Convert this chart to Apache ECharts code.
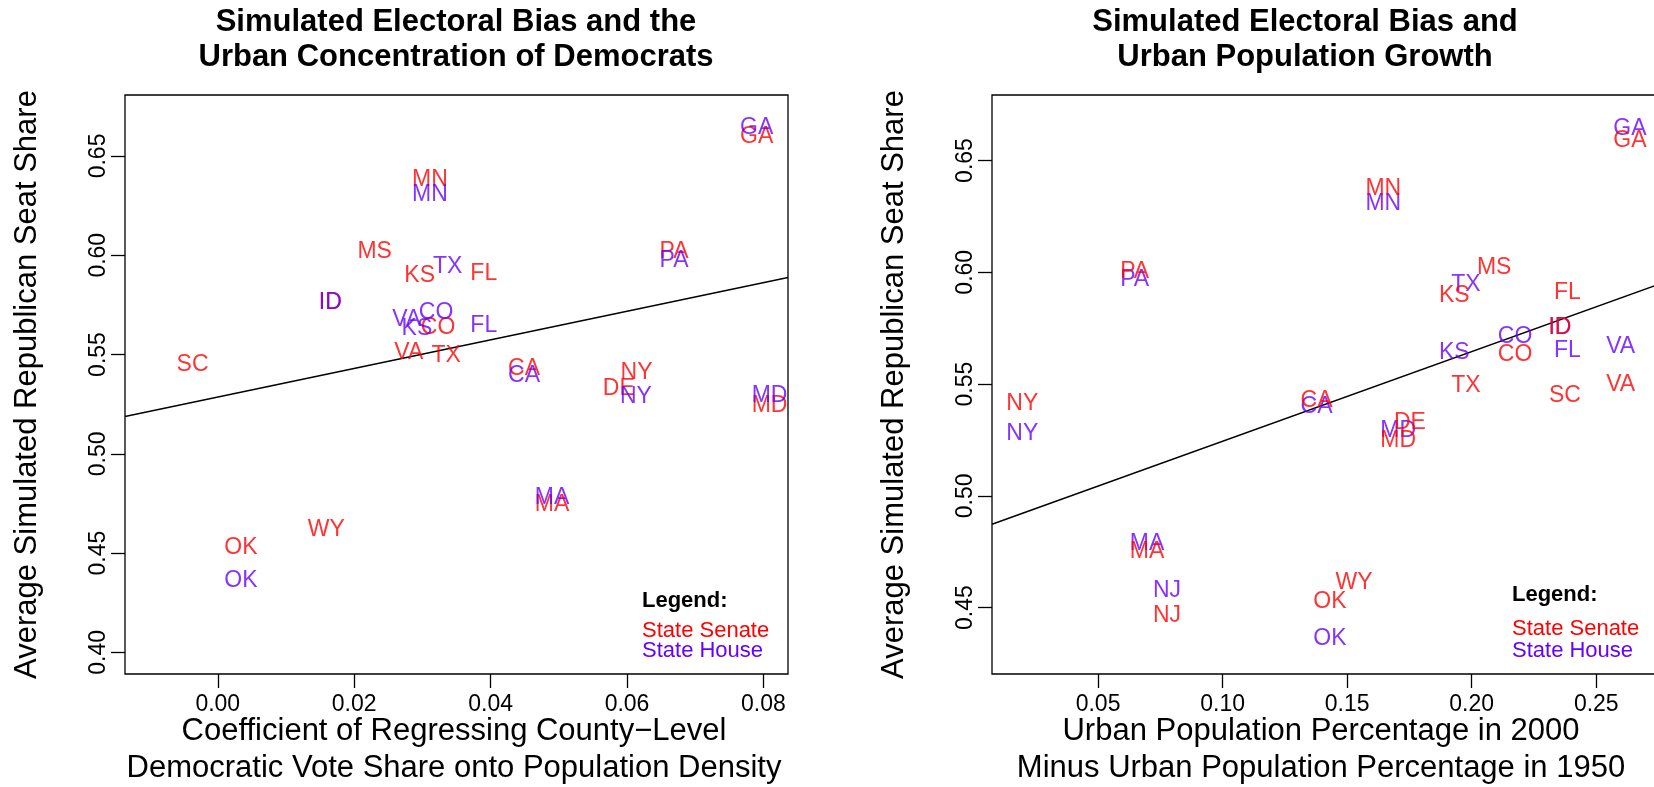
<!DOCTYPE html>
<html>
<head>
<meta charset="utf-8">
<script src="https://cdn.jsdelivr.net/npm/echarts@6/dist/echarts.min.js"></script>
<style>
html,body{margin:0;padding:0;background:#fff;}
#chart{width:1654px;height:787px;}
</style>
</head>
<body>
<div id="chart"></div>
<script>
// ---- Data: left panel (x = coefficient of regressing county-level Dem vote share onto density)
const leftSenateStates = ['MN','MS','KS','FL','ID','CO','VA','TX','SC','CA','NY','DE','MD','PA','GA','MA','OK','WY'];
const leftSenateX = [0.0311,0.0230,0.0296,0.0390,0.0165,0.0323,0.0280,0.0335,-0.0037,0.0449,0.0614,0.0588,0.0809,0.0669,0.0790,0.0490,0.0034,0.0159];
const leftSenateY = [0.6382,0.6019,0.5898,0.5907,0.5759,0.5635,0.5507,0.5495,0.5449,0.5428,0.5411,0.5328,0.5244,0.6016,0.6595,0.4745,0.4525,0.4618];

const leftHouseStates = ['MN','TX','ID','VA','CO','KS','FL','CA','NY','MD','PA','GA','MA','OK'];
const leftHouseX = [0.0311,0.0337,0.0165,0.0277,0.0320,0.0292,0.0390,0.0449,0.0613,0.0809,0.0669,0.0790,0.0490,0.0034];
const leftHouseY = [0.6306,0.5944,0.5759,0.5677,0.5713,0.5630,0.5647,0.5395,0.5286,0.5294,0.5974,0.6645,0.4779,0.4363];

// ---- Data: right panel (x = urban pop % 2000 minus urban pop % 1950)
const rightSenateStates = ['PA','NY','MA','NJ','GA','MN','MS','KS','FL','ID','CO','VA','TX','SC','CA','DE','MD','WY','OK'];
const rightSenateX = [0.0647,0.0196,0.0697,0.0777,0.2635,0.1645,0.2090,0.1930,0.2384,0.2354,0.2174,0.2598,0.1977,0.2374,0.1377,0.1752,0.1705,0.1528,0.1431];
const rightSenateY = [0.6005,0.5412,0.4749,0.4466,0.6590,0.6374,0.6019,0.5897,0.5911,0.5752,0.5633,0.5499,0.5493,0.5449,0.5427,0.5326,0.5245,0.4612,0.4525];

const rightHouseStates = ['PA','NY','MA','NJ','GA','MN','TX','ID','CO','KS','FL','VA','CA','MD','OK'];
const rightHouseX = [0.0647,0.0196,0.0697,0.0777,0.2635,0.1645,0.1977,0.2354,0.2174,0.1930,0.2384,0.2598,0.1377,0.1705,0.1431];
const rightHouseY = [0.5968,0.5278,0.4786,0.4574,0.6642,0.6307,0.5946,0.5752,0.5713,0.5639,0.5648,0.5669,0.5397,0.5290,0.4361];

// fitted regression lines (intercept, slope)
const leftFit = [0.5286, 0.7202];
const rightFit = [0.4843, 0.4011];

// axis ticks
const leftXTicks = [0.00,0.02,0.04,0.06,0.08];
const leftYTicks = [0.40,0.45,0.50,0.55,0.60,0.65];
const rightXTicks = [0.05,0.10,0.15,0.20,0.25];
const rightYTicks = [0.45,0.50,0.55,0.60,0.65];

// axis ranges
const leftXRange = [-0.0136, 0.0836];
const leftYRange = [0.3891, 0.6807];
const rightXRange = [0.00743, 0.28];
const rightYRange = [0.4203, 0.6793];

const RED = '#FF0000';
const BLUE = '#6600FF';
const FONT = '"Liberation Sans", Arial, Helvetica, sans-serif';

function pts(states, xs, ys) {
  return states.map((s, i) => ({ name: s, value: [xs[i], ys[i]] }));
}
function labelSeries(idx, states, xs, ys, color, z) {
  return {
    type: 'scatter', xAxisIndex: idx, yAxisIndex: idx, z: z,
    symbol: 'circle', symbolSize: 1, silent: true,
    itemStyle: { color: 'rgba(0,0,0,0)' },
    label: {
      show: true, position: 'inside', formatter: p => p.name,
      color: color, fontFamily: FONT, fontSize: 23,
      align: 'center', verticalAlign: 'middle'
    },
    emphasis: { disabled: true },
    data: pts(states, xs, ys)
  };
}
function fitSeries(idx, fit, range) {
  return {
    type: 'line', xAxisIndex: idx, yAxisIndex: idx, silent: true,
    symbol: 'none', z: 1,
    lineStyle: { color: '#000', width: 1.4 },
    data: [[range[0], fit[0] + fit[1] * range[0]], [range[1], fit[0] + fit[1] * range[1]]]
  };
}
function fmt2(v) { return v.toFixed(2); }

function xAxisCfg(idx, range, ticks) {
  return {
    type: 'value', gridIndex: idx, min: range[0], max: range[1],
    splitLine: { show: false },
    axisLine: { show: false, onZero: false },
    axisTick: { show: true, inside: false, length: 14, customValues: ticks, lineStyle: { color: '#000', width: 1.3 } },
    axisLabel: { show: true, customValues: ticks, formatter: fmt2, color: '#000', fontFamily: FONT, fontSize: 23, margin: 19 }
  };
}
function yAxisCfg(idx, range, ticks, name) {
  return {
    type: 'value', gridIndex: idx, min: range[0], max: range[1],
    splitLine: { show: false },
    axisLine: { show: false, onZero: false },
    axisTick: { show: true, inside: false, length: 14, customValues: ticks, lineStyle: { color: '#000', width: 1.3 } },
    axisLabel: { show: true, customValues: ticks, formatter: fmt2, rotate: 90, color: '#000', fontFamily: FONT, fontSize: 23, margin: 15 },
    name: name, nameLocation: 'middle', nameGap: 82,
    nameTextStyle: { color: '#000', fontFamily: FONT, fontSize: 31 }
  };
}

const chart = echarts.init(document.getElementById('chart'), null, { renderer: 'canvas' });
const option = {
  animation: false,
  backgroundColor: '#fff',
  grid: [
    { left: 125, top: 95, width: 663, height: 579, outerBoundsMode: 'none', containLabel: false, show: true, borderColor: '#000', borderWidth: 1.3, backgroundColor: 'transparent' },
    { left: 992, top: 95, right: -17, height: 579, outerBoundsMode: 'none', containLabel: false, show: true, borderColor: '#000', borderWidth: 1.3, backgroundColor: 'transparent' }
  ],
  xAxis: [
    xAxisCfg(0, leftXRange, leftXTicks),
    xAxisCfg(1, rightXRange, rightXTicks)
  ],
  yAxis: [
    yAxisCfg(0, leftYRange, leftYTicks, 'Average Simulated Republican Seat Share'),
    yAxisCfg(1, rightYRange, rightYTicks, 'Average Simulated Republican Seat Share')
  ],
  graphic: [
    { type: 'text', x: 456, y: 40, style: { text: 'Simulated Electoral Bias and the\nUrban Concentration of Democrats', textAlign: 'center', textVerticalAlign: 'middle', font: 'bold 31px ' + FONT, lineHeight: 35, fill: '#000' } },
    { type: 'text', x: 1305, y: 40, style: { text: 'Simulated Electoral Bias and\nUrban Population Growth', textAlign: 'center', textVerticalAlign: 'middle', font: 'bold 31px ' + FONT, lineHeight: 35, fill: '#000' } },
    { type: 'text', x: 454, y: 750, style: { text: 'Coefficient of Regressing County\u2212Level\nDemocratic Vote Share onto Population Density', textAlign: 'center', textVerticalAlign: 'middle', font: '31px ' + FONT, lineHeight: 37, fill: '#000' } },
    { type: 'text', x: 1321, y: 750, style: { text: 'Urban Population Percentage in 2000\nMinus Urban Population Percentage in 1950', textAlign: 'center', textVerticalAlign: 'middle', font: '31px ' + FONT, lineHeight: 37, fill: '#000' } },
    { type: 'text', x: 642, y: 601, style: { text: 'Legend:', textAlign: 'left', textVerticalAlign: 'middle', font: 'bold 22px ' + FONT, fill: '#000' } },
    { type: 'text', x: 642, y: 631, style: { text: 'State Senate', textAlign: 'left', textVerticalAlign: 'middle', font: '22px ' + FONT, fill: RED } },
    { type: 'text', x: 642, y: 651, style: { text: 'State House', textAlign: 'left', textVerticalAlign: 'middle', font: '22px ' + FONT, fill: BLUE } },
    { type: 'text', x: 1512, y: 595, style: { text: 'Legend:', textAlign: 'left', textVerticalAlign: 'middle', font: 'bold 22px ' + FONT, fill: '#000' } },
    { type: 'text', x: 1512, y: 629, style: { text: 'State Senate', textAlign: 'left', textVerticalAlign: 'middle', font: '22px ' + FONT, fill: RED } },
    { type: 'text', x: 1512, y: 651, style: { text: 'State House', textAlign: 'left', textVerticalAlign: 'middle', font: '22px ' + FONT, fill: BLUE } }
  ],
  series: [
    fitSeries(0, leftFit, leftXRange),
    fitSeries(1, rightFit, rightXRange),
    labelSeries(0, leftSenateStates, leftSenateX, leftSenateY, RED, 3),
    labelSeries(0, leftHouseStates, leftHouseX, leftHouseY, BLUE, 4),
    labelSeries(1, rightHouseStates, rightHouseX, rightHouseY, BLUE, 3),
    labelSeries(1, rightSenateStates, rightSenateX, rightSenateY, RED, 4)
  ]
};
chart.setOption(option);
</script>
</body>
</html>
